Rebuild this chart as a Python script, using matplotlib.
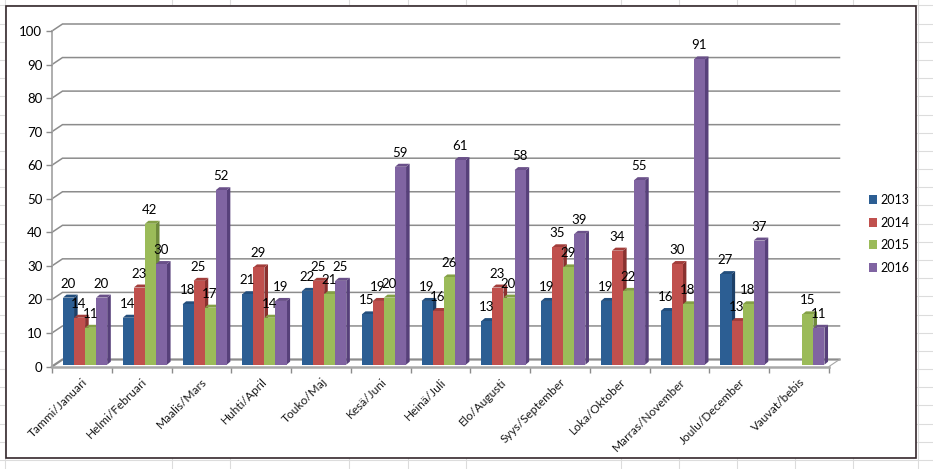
import matplotlib
matplotlib.use("Agg")
import matplotlib.pyplot as plt
from matplotlib.patches import Polygon, Rectangle

plt.rcParams['font.family'] = ['Lato', 'DejaVu Sans']

months = ['Tammi/Januari', 'Helmi/Februari', 'Maalis/Mars', 'Huhti/April', 'Touko/Maj',
          'Kesä/Juni', 'Heinä/Juli', 'Elo/Augusti', 'Syys/September', 'Loka/Oktober',
          'Marras/November', 'Joulu/December', 'Vauvat/bebis']
years = ['2013', '2014', '2015', '2016']
v2013 = [20, 14, 18, 21, 22, 15, 19, 13, 19, 19, 16, 27, None]
v2014 = [14, 23, 25, 29, 25, 19, 16, 23, 35, 34, 30, 13, None]
v2015 = [11, 42, 17, 14, 21, 20, 26, 20, 29, 22, 18, 18, 15]
v2016 = [20, 30, 52, 19, 25, 59, 61, 58, 39, 55, 91, 37, 11]
series = [v2013, v2014, v2015, v2016]
y_ticks = list(range(0, 101, 10))

front = ['#2c5e93', '#c0504d', '#9bbb59', '#8064a2']
side = ['#1d4068', '#8a312f', '#6f8a3c', '#57407a']
top = ['#234e7c', '#a33e3b', '#84a046', '#6a5089']

W, H = 933, 469
fig = plt.figure(figsize=(W / 100, H / 100), dpi=100)

# spreadsheet behind the chart, in pixels
bg = fig.add_axes([0, 0, 1, 1])
bg.set_xlim(0, W)
bg.set_ylim(H, 0)
bg.axis('off')
for x in [5, 171.5, 229.8, 349, 407.7, 465.5, 620.8, 678.6, 737, 794.6, 853, 917.5]:
    bg.plot([x, x], [0, H], color='#dcdcdc', lw=0.8)
for i in range(26):
    y = 5.5 + i * 18.18
    bg.plot([0, W], [y, y], color='#dcdcdc', lw=0.8)
bg.add_patch(Rectangle((5.5, 6), 910.5, 452, fc='white', ec='#35282c', lw=1.2, zorder=3))

left, right, bottom, upper = 52, 829, 366.5, 31
ax = fig.add_axes([left / W, 1 - bottom / H, (right - left) / W, (bottom - upper) / H])
ax.patch.set_alpha(0)
ax.set_xlim(0, 13)
ax.set_ylim(0, 100)
px_x = 13 / (right - left)
px_y = 100 / (bottom - upper)

# walls and gridlines
back_x = 10.5 * px_x
back_y = 7 * px_y
for t in y_ticks:
    lw = 1.6 if t == 0 else 1.1
    ax.plot([0, back_x, 13 + back_x], [t, t + back_y, t + back_y],
            color='#8c8c8c', lw=lw, clip_on=False, zorder=1, solid_joinstyle='miter')
ax.plot([13, 13 + back_x], [0, back_y], color='#a6a6a6', lw=0.8, clip_on=False, zorder=1)
ax.plot([0, 0], [0, 100], color='#a8a8a8', lw=1.3, clip_on=False, zorder=1)
ax.plot([0, 13], [0, 0], color='#a8a8a8', lw=1.8, clip_on=False, zorder=2)

# bars with fake depth, standing slightly behind the front edge of the floor
bar_w = 11.05 * px_x
start = 11 * px_x
base = 1.8 * px_y
dx = 3.6 * px_x
dy = 3 * px_y
for s, vals in enumerate(series):
    for i, v in enumerate(vals):
        if v is None:
            continue
        x0 = i + start + s * bar_w
        x1 = x0 + bar_w
        y1 = base + v
        z = 3 + s * 0.1
        ax.bar(x0, v, width=bar_w, bottom=base, align='edge', color=front[s], zorder=z + 0.02)
        ax.add_patch(Polygon([(x1, base), (x1 + dx, base + dy), (x1 + dx, y1 + dy), (x1, y1)],
                             fc=side[s], ec='none', zorder=z, clip_on=False))
        ax.add_patch(Polygon([(x0, y1), (x0 + dx, y1 + dy), (x1 + dx, y1 + dy), (x1, y1)],
                             fc=top[s], ec='none', zorder=z + 0.01, clip_on=False))
        ax.text(x0 + bar_w / 2 - 0.5 * px_x, y1 + 14 * px_y, str(v), ha='center', va='center',
                fontsize=9.5, color='black', zorder=10, clip_on=False)

for spine in ax.spines.values():
    spine.set_visible(False)
ax.set_yticks(y_ticks)
ax.set_yticklabels([str(t) for t in y_ticks], fontsize=9.5)
ax.tick_params(axis='y', length=4, width=1, color='#8c8c8c', pad=3)
ax.set_xticks(range(14))
ax.set_xticklabels([])
ax.set_xticks([i + 0.5 for i in range(13)], minor=True)
ax.set_xticklabels(months, minor=True, rotation=45, ha='right', va='top',
                   rotation_mode='anchor', fontsize=8.6, color='#1a1a1a')
ax.tick_params(axis='x', which='major', length=4, width=1, color='#8c8c8c')
ax.tick_params(axis='x', which='minor', length=0, pad=7)

handles = [Rectangle((0, 0), 1, 1, fc=c, ec='none') for c in front]
fig.legend(handles, years, loc='upper left', bbox_to_anchor=(869 / W, 1 - 194 / H), frameon=False,
           fontsize=9, handlelength=0.62, handleheight=0.7, handletextpad=0.3,
           labelspacing=0.85, borderpad=0, borderaxespad=0)

fig.savefig('out.png', dpi=100)
